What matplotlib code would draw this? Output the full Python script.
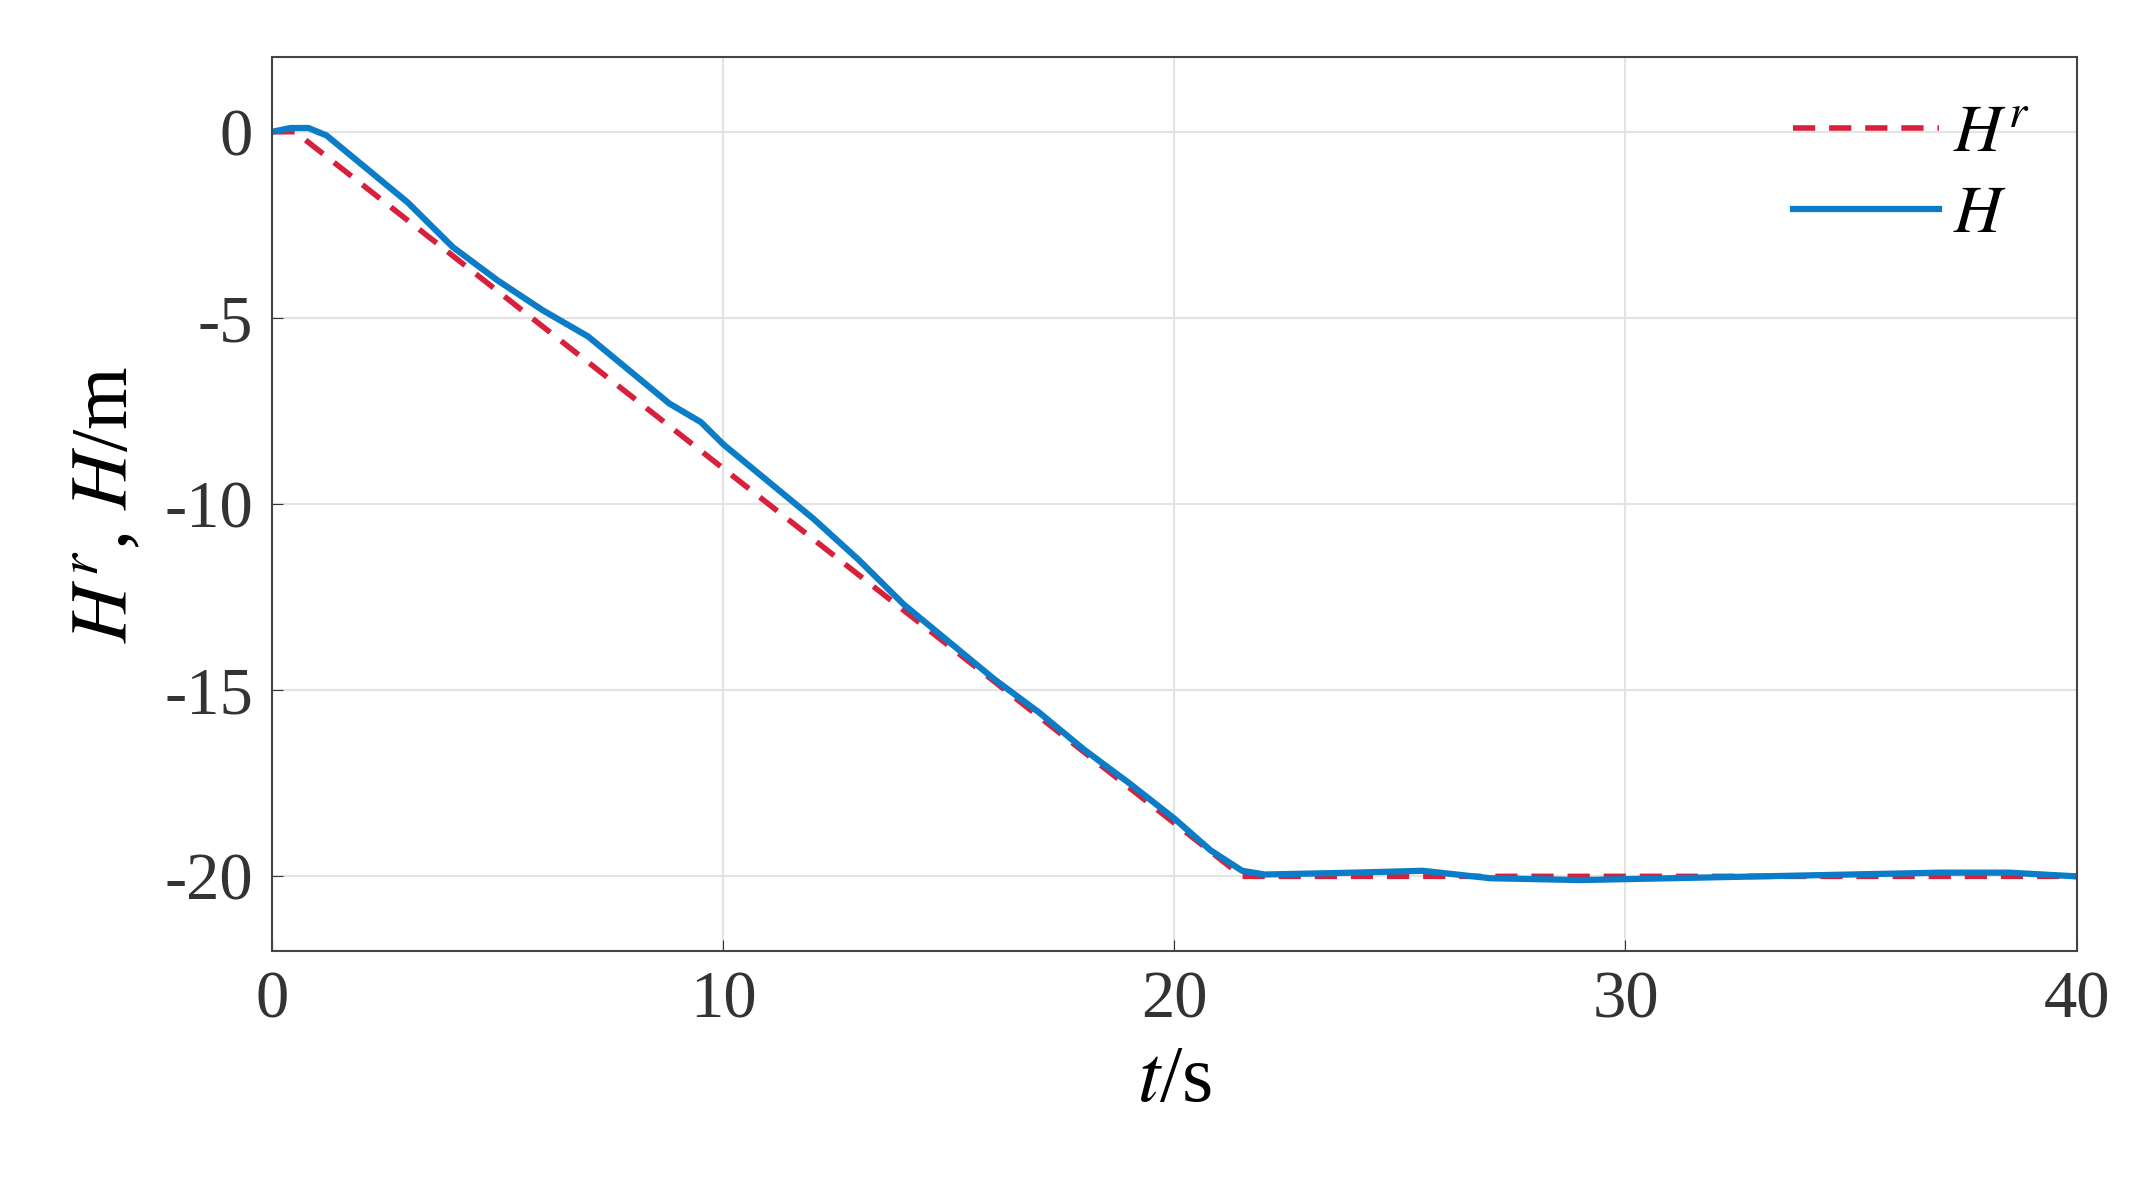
import matplotlib
matplotlib.use("Agg")
import matplotlib.pyplot as plt

t_ref = [0, 0.5, 21.5, 40]
h_ref = [0, 0, -20, -20]

t_h = [0, 0.4, 0.8, 1.2, 2, 3, 4, 5, 6, 7, 8, 8.8, 9.5, 10, 11, 12, 13, 14, 15, 16, 17, 18, 19, 20, 20.8, 21.5, 22, 24, 25.5, 27, 29, 31, 33, 35, 37, 38.5, 40]
h_h = [0, 0.1, 0.1, -0.1, -0.9, -1.9, -3.1, -4.0, -4.8, -5.5, -6.5, -7.3, -7.8, -8.4, -9.4, -10.4, -11.5, -12.7, -13.7, -14.7, -15.6, -16.6, -17.5, -18.45, -19.3, -19.85, -19.95, -19.9, -19.85, -20.05, -20.1, -20.05, -20.0, -19.95, -19.9, -19.9, -20.0]

xticks = [0, 10, 20, 30, 40]
yticks = [0, -5, -10, -15, -20]

plt.rcParams['font.family'] = ['Liberation Serif', 'DejaVu Serif']
plt.rcParams['mathtext.fontset'] = 'stix'

fig = plt.figure(figsize=(21.35, 11.93), dpi=100)
ax = fig.add_axes([0.1276, 0.203, 0.845, 0.749])
ax.plot(t_ref, h_ref, '--', color='#D9203A', lw=4, label=r'$H^r$', dashes=(4, 2.5))
ax.plot(t_h, h_h, '-', color='#0A7CC8', lw=4.5, label=r'$H$')
ax.set_xlim(0, 40)
ax.set_ylim(-22, 2)
ax.set_xticks(xticks)
ax.set_yticks(yticks)
ax.set_yticklabels([str(v) for v in yticks])
ax.tick_params(labelsize=48, direction='in', length=8, colors='#333333', pad=14)
ax.grid(True, color='#e3e3e3', lw=1.5)
for s in ax.spines.values():
    s.set_color('#444444')
    s.set_linewidth(1.5)
ax.set_xlabel(r'$t$/s', fontsize=58, labelpad=10)
ax.set_ylabel(r'$H^r$, $H$/m', fontsize=58, labelpad=14)
leg = ax.legend(loc='upper right', fontsize=48, frameon=False, handlelength=2.2, handletextpad=0.2, borderaxespad=0.3, labelspacing=0.3)
fig.savefig('out.png', dpi=100)
